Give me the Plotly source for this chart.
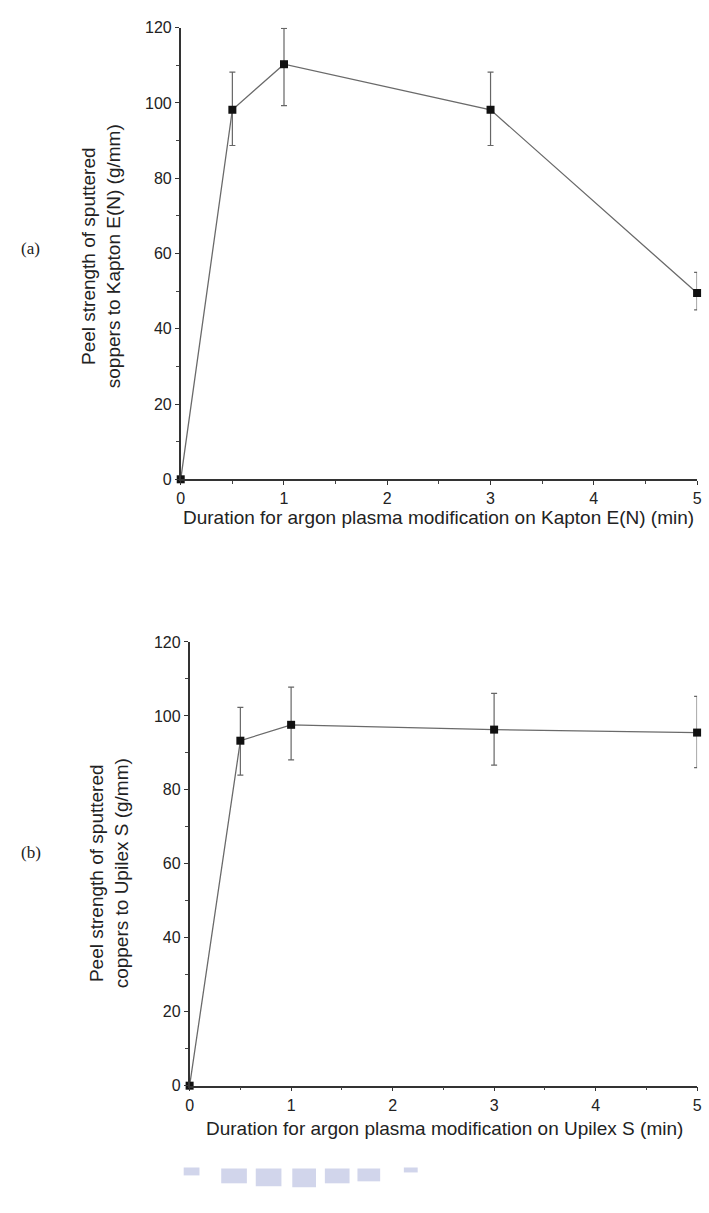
import plotly.graph_objects as go

# ---- data ----
duration = [0, 0.5, 1, 3, 5]
kapton_peel = [0, 98.2, 110.3, 98.2, 49.5]
kapton_err_plus = [0, 10.0, 9.5, 10.0, 5.5]
kapton_err_minus = [0, 9.5, 11.0, 9.5, 4.5]
upilex_peel = [0, 93.3, 97.6, 96.3, 95.5]
upilex_err_plus = [0, 9.0, 10.2, 9.8, 9.8]
upilex_err_minus = [0, 9.3, 9.5, 9.6, 9.5]

x_ticks = [0, 1, 2, 3, 4, 5]
y_ticks = [0, 20, 40, 60, 80, 100, 120]

x_title_a = "Duration for argon plasma modification on Kapton E(N) (min)"
y_title_a = "Peel strength of sputtered<br>soppers to Kapton E(N) (g/mm)"
x_title_b = "Duration for argon plasma modification on Upilex S (min)"
y_title_b = "Peel strength of sputtered<br>coppers to Upilex S (g/mm)"

W, H = 709, 1213
FONT = "Liberation Sans, Arial, sans-serif"
SERIF = "Liberation Serif, Times New Roman, serif"

fig = go.Figure()

def add_series(y, ep, em, xa, ya):
    fig.add_trace(go.Scatter(
        x=duration, y=y, xaxis=xa, yaxis=ya, mode="lines+markers",
        line=dict(color="#6a6a6a", width=1.3),
        marker=dict(symbol="square", size=8, color="#111111"),
        error_y=dict(type="data", symmetric=False, array=ep, arrayminus=em,
                     color="#666666", thickness=1.2, width=3),
        cliponaxis=False, showlegend=False))

add_series(kapton_peel, kapton_err_plus, kapton_err_minus, "x", "y")
add_series(upilex_peel, upilex_err_plus, upilex_err_minus, "x2", "y2")

def px(v):
    return v / W

def py(v):
    return 1 - v / H

axis_common = dict(showline=True, linecolor="#333333", linewidth=1.5,
                   ticks="outside", ticklen=4, tickwidth=1.3, tickcolor="#333333",
                   showgrid=False, zeroline=False,
                   tickfont=dict(family=FONT, size=16, color="#222222"))
minor_x = dict(dtick=0.5, ticklen=3, ticks="outside", tickcolor="#444444")
minor_y = dict(dtick=10, ticklen=3, ticks="outside", tickcolor="#444444")

fig.update_layout(
    width=W, height=H, margin=dict(l=0, r=0, t=0, b=0),
    paper_bgcolor="white", plot_bgcolor="white",
    xaxis=dict(domain=[px(179), px(702)], range=[0, 5], anchor="y",
               tickvals=x_ticks, minor=minor_x, **axis_common),
    yaxis=dict(domain=[py(478), py(20)], range=[0, 120], anchor="x",
               tickvals=y_ticks, minor=minor_y, **axis_common),
    xaxis2=dict(domain=[px(188), px(702)], range=[0, 5], anchor="y2",
                tickvals=x_ticks, minor=minor_x, **axis_common),
    yaxis2=dict(domain=[py(1093), py(643)], range=[0, 120], anchor="x2",
                tickvals=y_ticks, minor=minor_y, **axis_common),
)

ann = []
def text(x, y, t, size=14, angle=0, family=FONT, color="#222222"):
    ann.append(dict(x=px(x), y=py(y), xref="paper", yref="paper", text=t,
                    showarrow=False, textangle=angle, xanchor="center", yanchor="middle",
                    font=dict(family=family, size=size, color=color)))

text(440, 517, x_title_a, size=19)
text(99, 252, y_title_a, size=19, angle=-90)
text(446, 1136, x_title_b, size=19)
text(106, 878, y_title_b, size=19, angle=-90)
text(27, 244, "(a)", size=17, family=SERIF)
text(27, 857, "(b)", size=17, family=SERIF)
fig.update_layout(annotations=ann)

# faint blue watermark blocks at the bottom
blocks = [(182, 198, 1176, 1184), (220, 246, 1177, 1192), (255, 281, 1177, 1195),
          (292, 316, 1177, 1196), (325, 350, 1177, 1192), (358, 381, 1177, 1190), (405, 419, 1176, 1181)]
shapes = []
for x0, x1, y0, y1 in blocks:
    shapes.append(dict(type="rect", xref="paper", yref="paper",
                       x0=px(x0), x1=px(x1), y0=py(y1), y1=py(y0),
                       fillcolor="rgba(140,150,205,0.4)", line=dict(width=0)))
fig.update_layout(shapes=shapes)

fig.write_html("out.html")
